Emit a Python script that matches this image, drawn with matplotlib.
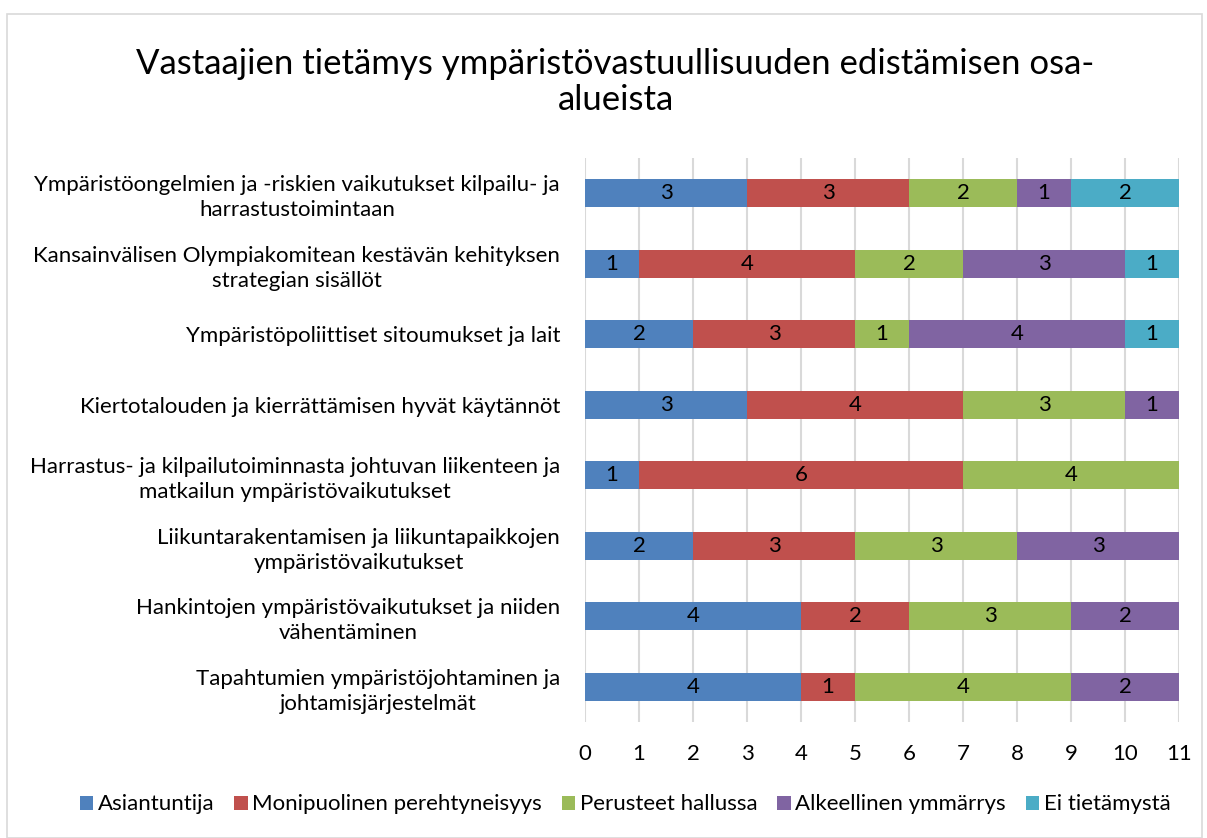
import matplotlib.pyplot as plt
import numpy as np

plt.rcParams['font.family'] = ['Lato', 'DejaVu Sans']

# categories, top to bottom as shown
categories = [
    'Ympäristöongelmien ja -riskien vaikutukset kilpailu- ja\nharrastustoimintaan',
    'Kansainvälisen Olympiakomitean kestävän kehityksen\nstrategian sisällöt',
    'Ympäristöpoliittiset sitoumukset ja lait',
    'Kiertotalouden ja kierrättämisen hyvät käytännöt',
    'Harrastus- ja kilpailutoiminnasta johtuvan liikenteen ja\nmatkailun ympäristövaikutukset',
    'Liikuntarakentamisen ja liikuntapaikkojen\nympäristövaikutukset',
    'Hankintojen ympäristövaikutukset ja niiden\nvähentäminen',
    'Tapahtumien ympäristöjohtaminen ja\njohtamisjärjestelmät',
]

series_names = ['Asiantuntija', 'Monipuolinen perehtyneisyys', 'Perusteet hallussa',
                'Alkeellinen ymmärrys', 'Ei tietämystä']
asiantuntija = [3, 1, 2, 3, 1, 2, 4, 4]
monipuolinen = [3, 4, 3, 4, 6, 3, 2, 1]
perusteet = [2, 2, 1, 3, 4, 3, 3, 4]
alkeellinen = [1, 3, 4, 1, 0, 3, 2, 2]
ei_tietamysta = [2, 1, 1, 0, 0, 0, 0, 0]

colors = ['#4F81BD', '#C0504D', '#9BBB59', '#8064A2', '#4BACC6']

fig = plt.figure(figsize=(12.07, 8.38), dpi=100)
ax = fig.add_axes([0.4847, 0.1384, 0.4921, 0.6730])

y = np.arange(len(categories))
left = np.zeros(len(categories))
all_series = [asiantuntija, monipuolinen, perusteet, alkeellinen, ei_tietamysta]
for name, vals, col in zip(series_names, all_series, colors):
    vals = np.array(vals)
    ax.barh(y, vals, left=left, height=0.4, color=col, label=name, zorder=2)
    for yi, (l, v) in enumerate(zip(left, vals)):
        if v > 0:
            ax.text(l + v / 2, yi, str(v), ha='center', va='center',
                    fontsize=16, color='black', zorder=3)
    left += vals

ax.set_xlim(0, 11)
ax.set_ylim(len(categories) - 0.5, -0.5)
ax.set_xticks(range(12))
ax.set_yticks(y)
ax.set_yticklabels(categories, multialignment='center', linespacing=1.3)
ax.tick_params(axis='x', labelsize=16, length=0, pad=16)
ax.tick_params(axis='y', labelsize=16, length=0, pad=18)
ax.grid(axis='x', color='#D9D9D9', linewidth=1.5, zorder=0)
for s in ax.spines.values():
    s.set_visible(False)

fig.text(0.51, 0.902, 'Vastaajien tietämys ympäristövastuullisuuden edistämisen osa-\nalueista',
         ha='center', va='center', fontsize=25, linespacing=1.15)

fig.legend(loc='center', bbox_to_anchor=(0.518, 0.04), ncol=5, frameon=False,
           fontsize=16, handlelength=0.6, handleheight=0.6, handletextpad=0.2,
           columnspacing=0.9)

fig.patches.append(plt.Rectangle((0.006, 0.0), 0.99, 0.983, transform=fig.transFigure,
                                 fill=False, edgecolor='#D9D9D9', linewidth=1.2))

fig.savefig('out.png', dpi=100)
